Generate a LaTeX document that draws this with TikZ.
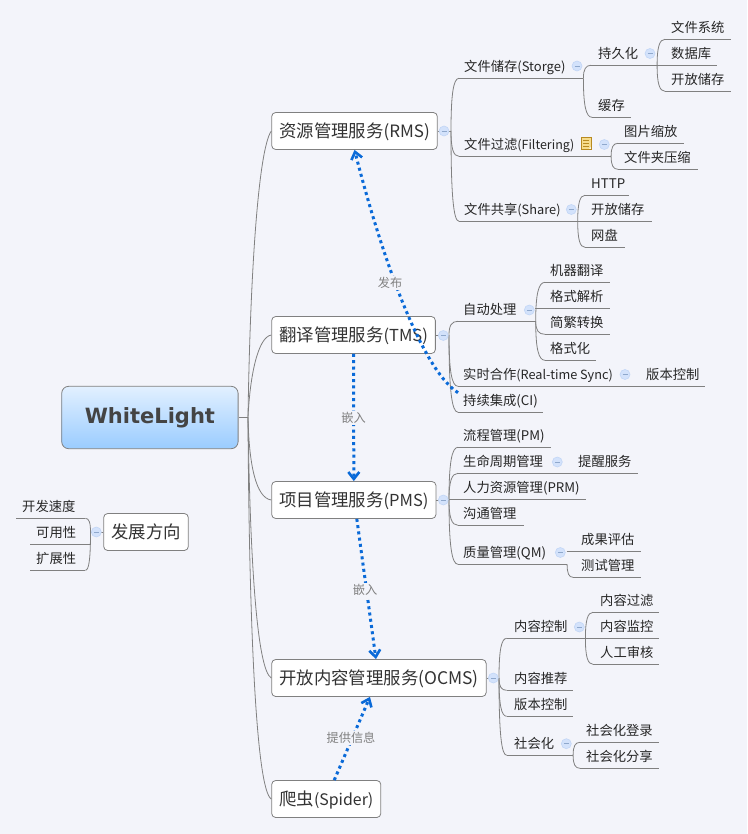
\documentclass[tikz,border=0pt]{standalone}
\usepackage{fontspec}
\setmainfont{Noto Sans CJK SC}
\newfontfamily\rootfont{DejaVu Sans}
\usetikzlibrary{calc,arrows.meta}

\definecolor{pagebg}{HTML}{F3F4FA}
\definecolor{linegray}{HTML}{808080}
\definecolor{relblue}{HTML}{0A6AD8}
\definecolor{foldblue}{HTML}{D3E2FB}
\definecolor{foldedge}{HTML}{C2D6F6}
\definecolor{foldmark}{HTML}{8FA8CC}
\definecolor{rootdark}{HTML}{444444}
\definecolor{roottop}{HTML}{E2F0FF}
\definecolor{rootbottom}{HTML}{9ACCFF}
\definecolor{notefill}{HTML}{F6DC8C}
\definecolor{noteedge}{HTML}{B88A20}

% latin part of a label, set a little narrower
\newcommand{\latinpart}[2]{{\fontsize{#1}{16}\selectfont #2}}

% one underlined topic: name, left, right, underline y, text start, text
\newcommand{\topicleaf}[6]{%
    \pgfmathsetmacro{\leafw}{#3-#2}%
    \pgfmathsetmacro{\leafp}{#5-#2}%
    \node[leaf] (#1) at (#2,#4) {\makebox[\leafw pt][l]{\hspace*{\leafp pt}#6}};
    \draw[branch] (#1.south west) -- (#1.south east);
}

\begin{document}
\begin{tikzpicture}[x=1pt,y=-1pt,
    branch/.style={draw=linegray,line width=0.8pt},
    forkcurve/.style={to path={.. controls ($(\tikztostart)!0.7!(\tikztostart|-\tikztotarget)$) and ($(\tikztostart|-\tikztotarget)!0.3!(\tikztotarget)$) .. (\tikztotarget)}},
    leaf/.style={anchor=south west,inner sep=0pt,text height=13pt,text depth=6.2pt,text=black!85,font=\fontsize{13.3}{16}\selectfont},
    mainbox/.style={anchor=west,draw=linegray,line width=0.8pt,fill=white,rounded corners=4pt,inner xsep=7.5pt,inner ysep=0pt,minimum height=37pt,text height=17pt,text depth=3.5pt,text=black!80,font=\fontsize{17.4}{20}\selectfont},
    rootbox/.style={anchor=west,draw=linegray,line width=0.8pt,rounded corners=7pt,top color=roottop,bottom color=rootbottom,minimum width=176.4pt,minimum height=62.4pt,text=rootdark,font=\rootfont\bfseries\fontsize{21}{24}\selectfont},
    fold/.style={circle,draw=foldedge,fill=foldblue,line width=0.6pt,minimum size=10pt,inner sep=0pt,
        path picture={\draw[foldmark,line width=0.6pt] ($(path picture bounding box.center)+(-2.5,0)$) -- ($(path picture bounding box.center)+(2.5,0)$);}},
    relation/.style={draw=relblue,line width=3pt,dash pattern=on 3pt off 3.3pt,-{Straight Barb[length=7pt,width=11pt,line width=2.6pt]}},
    rellabel/.style={fill=pagebg,inner xsep=0.5pt,inner ysep=1pt,text=linegray,font=\fontsize{12.2}{14}\selectfont}
]
    % page
    \fill[pagebg] (0,0) rectangle (747,834);
    \useasboundingbox (0,0) rectangle (747,834);

    % main topics
    \node[rootbox] (root) at (61.3,417.5) {WhiteLight};
    \node[mainbox] (rms) at (271.3,131) {资源管理服务\latinpart{17}{(RMS)}};
    \node[mainbox] (tms) at (271.3,335) {翻译管理服务\latinpart{16.5}{(TMS)}};
    \node[mainbox] (pms) at (271.3,500) {项目管理服务\latinpart{16.5}{(PMS)}};
    \node[mainbox] (ocms) at (271.3,678) {开放内容管理服务(OCMS)};
    \node[mainbox] (spider) at (271.3,799) {爬虫\latinpart{15.9}{(Spider)}};
    \node[mainbox] (future) at (103.3,532) {发展方向};

    % forks
    \coordinate (hub) at (248,417.5);
    \coordinate (rmsfork) at (451,131);
    \coordinate (tmsfork) at (449,335);
    \coordinate (pmsfork) at (449,500);
    \coordinate (ocmsfork) at (499,678);
    \coordinate (futurefork) at (90.5,532);

    % RMS
    \topicleaf{storage}{459}{583}{78.3}{464}{文件储存\latinpart{13}{(Storge)}}
    \topicleaf{persist}{591}{656.7}{65.3}{598}{持久化}
    \topicleaf{filesys}{665}{730.7}{39.3}{671}{文件系统}
    \topicleaf{database}{656.7}{716.7}{65.3}{671}{数据库}
    \topicleaf{openstore}{665}{730.7}{91.3}{671}{开放储存}
    \topicleaf{cache}{592}{630.7}{117.3}{598}{缓存}
    \topicleaf{filtering}{459}{610.7}{156.3}{464}{文件过滤\latinpart{12.5}{(Filtering)}}
    \topicleaf{imgscale}{618}{683.3}{143.3}{624}{图片缩放}
    \topicleaf{zipdir}{618}{697.3}{169.3}{624}{文件夹压缩}
    \topicleaf{share}{459}{577.3}{221.3}{464}{文件共享\latinpart{12.8}{(Share)}}
    \topicleaf{http}{585}{628.3}{195.3}{591}{HTTP}
    \topicleaf{openshare}{577.3}{651.7}{221.3}{591}{开放储存}
    \topicleaf{netdisk}{585}{625}{247.3}{591}{网盘}

    % TMS
    \topicleaf{auto}{458}{535.3}{321.3}{463}{自动处理}
    \topicleaf{machine}{545}{609.3}{282.3}{550}{机器翻译}
    \topicleaf{parse}{535.3}{609.3}{308.3}{550}{格式解析}
    \topicleaf{simptrad}{545}{609.3}{334.3}{550}{简繁转换}
    \topicleaf{format}{545}{595.3}{360.3}{550}{格式化}
    \topicleaf{realtime}{458}{631}{386.3}{463}{实时合作\latinpart{12.7}{(Real-time Sync)}}
    \topicleaf{version}{631}{705}{386.3}{646}{版本控制}
    \topicleaf{ci}{458}{542.7}{412.3}{463}{持续集成(CI)}

    % PMS
    \topicleaf{process}{458}{550.7}{447.3}{463}{流程管理(PM)}
    \topicleaf{life}{458}{563}{473.3}{463}{生命周期管理}
    \topicleaf{remind}{563}{637.3}{473.3}{578}{提醒服务}
    \topicleaf{people}{449}{585.7}{499.3}{463}{人力资源管理(PRM)}
    \topicleaf{talk}{458}{523.3}{525.3}{463}{沟通管理}
    \topicleaf{quality}{458}{566.7}{564.3}{463}{质量管理(QM)}
    \topicleaf{assess}{566.7}{640.7}{551.3}{581}{成果评估}
    \topicleaf{testing}{573}{640.7}{577.3}{581}{测试管理}

    % OCMS
    \topicleaf{control}{506.7}{585}{638.3}{514}{内容控制}
    \topicleaf{cfilter}{593}{659}{612.3}{600}{内容过滤}
    \topicleaf{cwatch}{585}{659}{638.3}{600}{内容监控}
    \topicleaf{creview}{593}{659}{664.3}{600}{人工审核}
    \topicleaf{recommend}{506.7}{572.7}{690.3}{514}{内容推荐}
    \topicleaf{cversion}{506.7}{572.7}{716.3}{514}{版本控制}
    \topicleaf{social}{506.7}{572.7}{755.3}{514}{社会化}
    \topicleaf{login}{580}{659}{742.3}{586}{社会化登录}
    \topicleaf{sshare}{580}{659}{768.3}{586}{社会化分享}

    % left side
    \topicleaf{speed}{16}{85}{518.3}{22}{开发速度}
    \topicleaf{usable}{30}{90.5}{544.3}{36}{可用性}
    \topicleaf{scale}{30}{85}{570.3}{36}{扩展性}

    % root branches
    \draw[branch] (root.east) -- (hub);
    \draw[branch] (hub) .. controls (250,280) and (258,150) .. (rms.west);
    \draw[branch] (hub) .. controls (250,375) and (258,337) .. (tms.west);
    \draw[branch] (hub) .. controls (249,465) and (256,498) .. (pms.west);
    \draw[branch] (hub) .. controls (250,560) and (257,670) .. (ocms.west);
    \draw[branch] (hub) .. controls (249,620) and (256,790) .. (spider.west);

    % second level branches
    \draw[branch] (rms.east) -- (rmsfork);
    \draw[branch] (tms.east) -- (tmsfork);
    \draw[branch] (pms.east) -- (pmsfork);
    \draw[branch] (ocms.east) -- (ocmsfork);
    \draw[branch] (future.west) -- (futurefork);
    \foreach \a/\b in {rmsfork/storage,rmsfork/filtering,rmsfork/share,
        tmsfork/auto,tmsfork/realtime,tmsfork/ci,
        pmsfork/process,pmsfork/life,pmsfork/people,pmsfork/talk,pmsfork/quality,
        ocmsfork/control,ocmsfork/recommend,ocmsfork/cversion,ocmsfork/social}
        \draw[branch] (\a) to[forkcurve] (\b.south west);
    \foreach \a/\b in {storage/persist,storage/cache,persist/filesys,persist/openstore,
        filtering/imgscale,filtering/zipdir,share/http,share/netdisk,
        auto/machine,auto/simptrad,auto/format,quality/testing,
        control/cfilter,control/creview,social/login,social/sshare}
        \draw[branch] (\a.south east) to[forkcurve] (\b.south west);
    \foreach \b in {speed,scale}
        \draw[branch] (futurefork) to[forkcurve] (\b.south east);

    % collapse marks
    \foreach \name/\x/\y in {frms/444/131,ftms/443.3/335.5,fpms/443.3/500,focms/493.3/678,ffuture/96.3/532,
        fstorage/577/66,fpersist/650/53.5,ffilter/604.3/144.5,fshare/571.3/209.5,
        fauto/529.3/310,frealtime/625/374.5,flife/557.3/462,fquality/560.3/552.5,
        fcontrol/579.3/627,fsocial/566.3/743.7}
        \node[fold] (\name) at (\x,\y) {};

    % note icon
    \node[draw=noteedge,fill=notefill,line width=0.8pt,minimum width=10.5pt,minimum height=12.5pt,inner sep=0pt,
        path picture={\foreach \k in {-3,0,3} \draw[noteedge,line width=0.5pt] ($(path picture bounding box.center)+(-3,\k)$) -- ($(path picture bounding box.center)+(3,\k)$);
        \fill[pagebg] (path picture bounding box.south east) -- ++(-3.5,0) -- ++(3.5,-3.5) -- cycle;}] (filternote) at (586.3,143.5) {};

    % relationships
    \draw[relation] (ci.north west) .. controls (420,368) and (380,250) .. (rms.south);
    \draw[relation] (tms.south) -- (pms.north);
    \draw[relation] ([xshift=3pt]pms.south) -- ([xshift=-3pt]ocms.north);
    \draw[relation] ([xshift=8pt]spider.north) -- ([xshift=-9pt]ocms.south);
    \node[rellabel] (publish) at (390,283) {发布};
    \node[rellabel] (embedone) at (353.5,418) {嵌入};
    \node[rellabel] (embedtwo) at (365,590) {嵌入};
    \node[rellabel] (provide) at (351,738) {提供信息};
\end{tikzpicture}
\end{document}
